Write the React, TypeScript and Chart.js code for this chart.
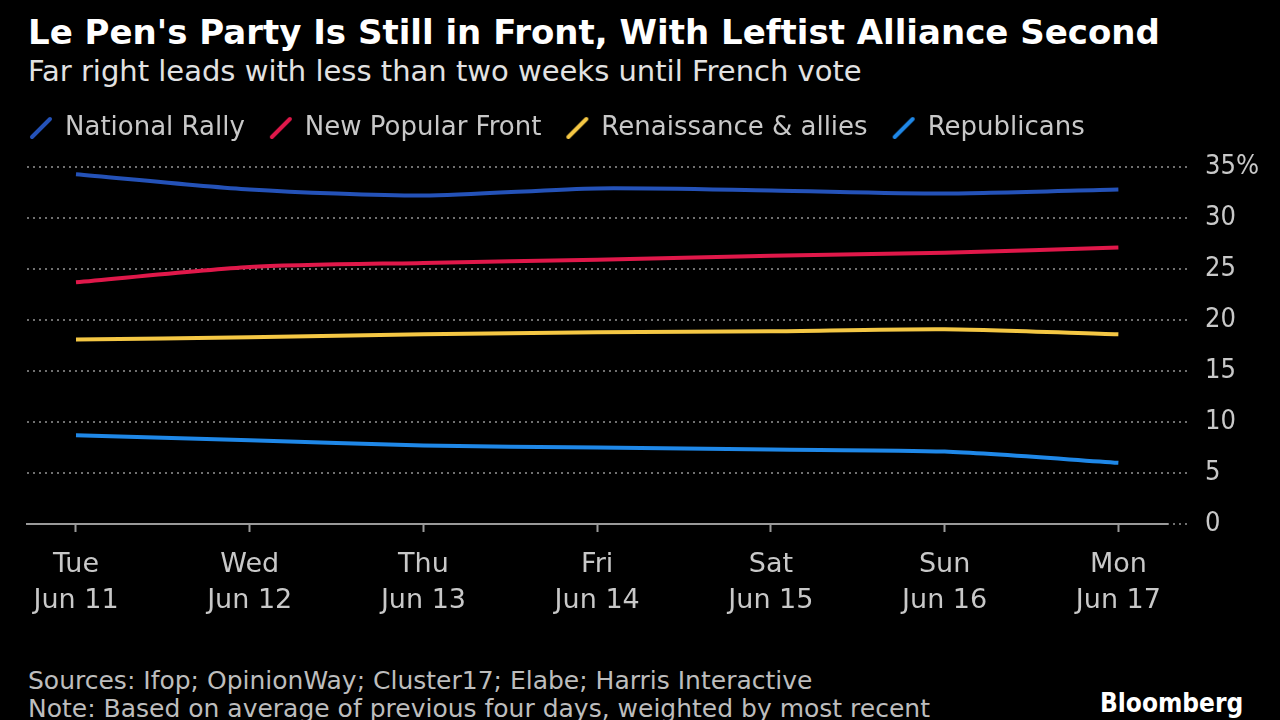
import React, { useEffect, useRef } from "react";
import { Chart, registerables } from "chart.js";

Chart.register(...registerables);

const FONT = '"DejaVu Sans", sans-serif';
const FONT_COND = '"DejaVu Sans Condensed", "DejaVu Sans", sans-serif';

const dayNames = ["Tue", "Wed", "Thu", "Fri", "Sat", "Sun", "Mon"];
const dayDates = ["Jun 11", "Jun 12", "Jun 13", "Jun 14", "Jun 15", "Jun 16", "Jun 17"];

const nationalRally = [34.3, 32.8, 32.2, 32.9, 32.7, 32.4, 32.8];
const newPopularFront = [23.7, 25.2, 25.6, 25.9, 26.3, 26.6, 27.1];
const renaissanceAllies = [18.1, 18.3, 18.6, 18.8, 18.9, 19.1, 18.6];
const republicans = [8.7, 8.2, 7.7, 7.5, 7.3, 7.1, 6.0];

const yTickValues = [0, 5, 10, 15, 20, 25, 30, 35];

const seriesNames = ["National Rally", "New Popular Front", "Renaissance & allies", "Republicans"];
const seriesColors = ["#2452b8", "#e0184a", "#f4c744", "#1f88e8"];

function makeMarker(color: string): HTMLCanvasElement {
  const c = document.createElement("canvas");
  c.width = 26;
  c.height = 26;
  const g = c.getContext("2d")!;
  g.strokeStyle = color;
  g.lineWidth = 4;
  g.lineCap = "round";
  g.beginPath();
  g.moveTo(4, 22);
  g.lineTo(22, 4);
  g.stroke();
  return c;
}

const legendSpacer = {
  id: "legendSpacer",
  beforeLayout(chart: any) {
    const lg = chart.legend;
    if (lg && !lg._spacerPatched) {
      const orig = lg.fit;
      lg.fit = function () {
        orig.call(this);
        this.height += 16;
      };
      lg._spacerPatched = true;
    }
  },
};

export default function App() {
  const canvasRef = useRef<HTMLCanvasElement | null>(null);

  useEffect(() => {
    if (!canvasRef.current) return;
    const markers = seriesColors.map(makeMarker);
    const seriesValues = [nationalRally, newPopularFront, renaissanceAllies, republicans];
    const datasets = seriesValues.map((vals, k) => ({
      label: seriesNames[k],
      data: vals.map((v, i) => ({ x: i, y: v })),
      borderColor: seriesColors[k],
      backgroundColor: seriesColors[k],
      borderWidth: 4,
      pointRadius: 0,
      pointHoverRadius: 0,
      tension: 0.25,
      pointStyle: markers[k] as any,
    }));

    const chart = new Chart(canvasRef.current, {
      type: "line",
      data: { datasets },
      plugins: [legendSpacer],
      options: {
        animation: false,
        responsive: false,
        maintainAspectRatio: false,
        events: [],
        layout: { padding: { left: 5, right: 5, top: 0, bottom: 2 } },
        plugins: {
          legend: {
            display: true,
            position: "top",
            align: "start",
            labels: {
              color: "#c8c8c8",
              font: { family: FONT, size: 26 },
              usePointStyle: true,
              boxWidth: 22,
              boxHeight: 22,
              padding: 25,
              generateLabels: (ch: any) =>
                ch.data.datasets.map((ds: any, i: number) => ({
                  text: ds.label,
                  fillStyle: ds.borderColor,
                  strokeStyle: ds.borderColor,
                  lineWidth: 0,
                  pointStyle: markers[i],
                  hidden: false,
                  datasetIndex: i,
                  fontColor: "#c8c8c8",
                })),
            },
          },
          tooltip: { enabled: false },
        },
        scales: {
          x: {
            type: "linear",
            min: -0.282,
            max: 6.28,
            afterBuildTicks: (s: any) => {
              s.ticks = dayNames.map((_, i) => ({ value: i }));
            },
            ticks: {
              callback: (v: any) => [dayNames[v], dayDates[v]],
              color: "#c8c8c8",
              font: { family: FONT, size: 27, lineHeight: 1.333 },
              padding: 15,
              maxRotation: 0,
              autoSkip: false,
            },
            grid: {
              drawOnChartArea: false,
              drawTicks: true,
              tickLength: 8,
              tickColor: "#9a9a9a",
              tickWidth: 2,
              color: "#9a9a9a",
            },
            border: { display: true, color: "#9a9a9a", width: 2 },
          },
          y: {
            position: "right",
            min: 0,
            max: 35,
            afterBuildTicks: (s: any) => {
              s.ticks = yTickValues.map((v) => ({ value: v }));
            },
            ticks: {
              callback: (v: any) => (v === 35 ? "35%" : String(v)),
              color: "#c8c8c8",
              font: { family: FONT_COND, size: 27 },
              padding: 16,
            },
            grid: {
              color: (ctx: any) => (ctx.tick && ctx.tick.value === 0 ? "rgba(0,0,0,0)" : "#707070"),
              lineWidth: 2,
              tickLength: 22,
              tickColor: "#707070",
              tickWidth: 2,
              tickBorderDash: [2, 4],
            },
            border: { display: false, dash: [2, 4] },
          },
          pad: {
            type: "linear",
            position: "left",
            display: true,
            afterFit: (s: any) => {
              s.width = 22;
            },
            ticks: { display: false },
            grid: { display: false },
            border: { display: false },
          },
        },
      } as any,
    });
    return () => chart.destroy();
  }, []);

  const textBase: React.CSSProperties = {
    position: "absolute",
    fontFamily: FONT,
    whiteSpace: "nowrap",
    margin: 0,
  };

  return (
    <div style={{ position: "fixed", left: 0, top: 0, width: 1280, height: 720, background: "#000", overflow: "hidden" }}>
      <div style={{ ...textBase, left: 28, top: 15, fontSize: 34, lineHeight: "34px", fontWeight: 700, color: "#ffffff" }}>
        Le Pen's Party Is Still in Front, With Leftist Alliance Second
      </div>
      <div style={{ ...textBase, left: 28, top: 57, fontSize: 29, lineHeight: "29px", color: "#e2e2e2" }}>
        Far right leads with less than two weeks until French vote
      </div>
      <canvas
        ref={canvasRef}
        width={1280}
        height={546}
        style={{ position: "absolute", left: 0, top: 90, width: 1280, height: 546 }}
      />
      <div style={{ ...textBase, left: 28, top: 668, fontSize: 25, lineHeight: "25px", color: "#bdbdbd" }}>
        Sources: Ifop; OpinionWay; Cluster17; Elabe; Harris Interactive
      </div>
      <div style={{ ...textBase, left: 28, top: 696, fontSize: 25, lineHeight: "25px", color: "#bdbdbd" }}>
        Note: Based on average of previous four days, weighted by most recent
      </div>
      <div style={{ ...textBase, fontFamily: FONT_COND, left: 1100, top: 690, fontSize: 26, lineHeight: "26px", fontWeight: 700, color: "#ffffff" }}>
        Bloomberg
      </div>
    </div>
  );
}
